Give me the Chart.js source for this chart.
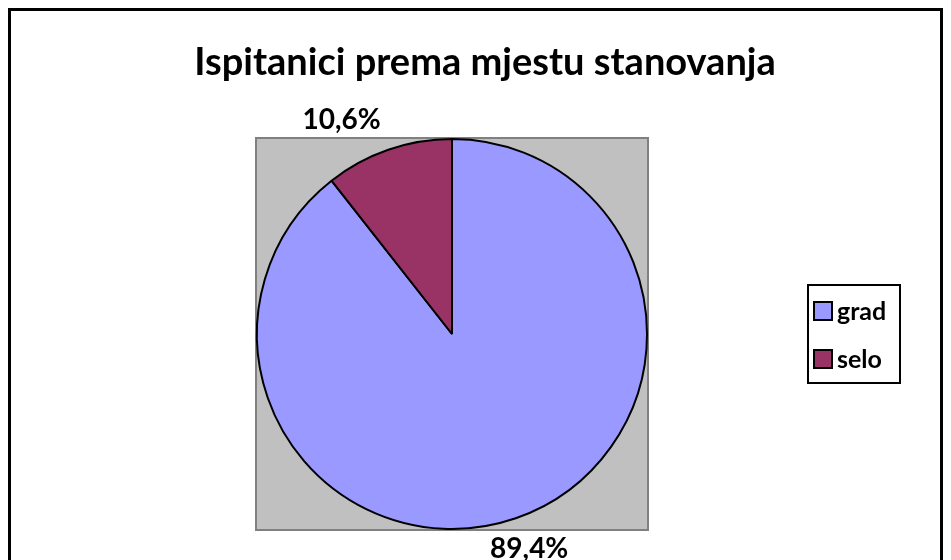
<!DOCTYPE html>
<html>
<head>
<meta charset="utf-8">
<script src="https://cdn.jsdelivr.net/npm/chart.js@4/dist/chart.umd.min.js"></script>
<style>
  html, body { margin: 0; padding: 0; background: #fff; overflow: hidden; }
  #wrap { width: 951px; height: 560px; }
</style>
</head>
<body>
<div id="wrap"><canvas id="myChart" width="951" height="560"></canvas></div>
<script>
var chartTitle = 'Ispitanici prema mjestu stanovanja';
var categories = ['grad', 'selo'];
var shares = [89.4, 10.6];
var sliceColors = ['#9999FF', '#993366'];

var FONT = 'Lato, "Open Sans", sans-serif';

function pct(v) {
    return v.toFixed(1).replace('.', ',') + '%';
}

// grey plot square, outer frame, title, legend
var frame = {
    id: 'frame',
    beforeDraw: function (chart) {
        var ctx = chart.ctx;
        var a = chart.chartArea;
        ctx.save();
        ctx.fillStyle = '#fff';
        ctx.fillRect(0, 0, chart.width, chart.height);
        ctx.fillStyle = '#C0C0C0';
        ctx.fillRect(a.left, a.top, a.right - a.left, a.bottom - a.top);
        ctx.strokeStyle = '#808080';
        ctx.lineWidth = 2;
        ctx.strokeRect(a.left, a.top, a.right - a.left, a.bottom - a.top);
        ctx.restore();
    },
    afterDraw: function (chart) {
        var ctx = chart.ctx;
        ctx.save();
        // outer border (bottom edge falls below the canvas)
        ctx.strokeStyle = '#000';
        ctx.lineWidth = 3;
        ctx.strokeRect(9.5, 9.5, 932, 700);

        ctx.fillStyle = '#000';
        ctx.font = 'bold 38px ' + FONT;
        ctx.textAlign = 'center';
        ctx.textBaseline = 'alphabetic';
        ctx.fillText(chartTitle, 485, 75);

        // legend
        ctx.lineWidth = 2;
        ctx.strokeRect(808, 285, 92, 98);
        ctx.font = 'bold 25px ' + FONT;
        ctx.textAlign = 'left';
        for (var i = 0; i < categories.length; i++) {
            var y = 302 + i * 48;
            ctx.fillStyle = sliceColors[i];
            ctx.fillRect(814, y, 18, 18);
            ctx.strokeStyle = '#000';
            ctx.strokeRect(814, y, 18, 18);
            ctx.fillStyle = '#000';
            ctx.fillText(categories[i], 837, y + 18);
        }

        // value labels outside each slice
        var meta = chart.getDatasetMeta(0);
        ctx.font = 'bold 28px ' + FONT;
        ctx.textAlign = 'center';
        ctx.textBaseline = 'middle';
        meta.data.forEach(function (arc, i) {
            var p = arc.getProps(['x', 'y', 'startAngle', 'endAngle', 'outerRadius'], true);
            var mid = (p.startAngle + p.endAngle) / 2;
            var r = p.outerRadius + 32;
            var dx = Math.cos(mid), dy = Math.sin(mid);
            var txt = pct(shares[i]);
            var w = ctx.measureText(txt).width;
            var cx = p.x + dx * r + (dx < 0 ? -w / 2 : 0) + 3;
            var cy = p.y + dy * r;
            ctx.fillText(txt, cx, cy);
        });
        ctx.restore();
    }
};

var ctx = document.getElementById('myChart').getContext('2d');
var myChart = new Chart(ctx, {
    type: 'pie',
    data: {
        labels: categories,
        datasets: [{
            data: shares,
            backgroundColor: sliceColors,
            borderColor: '#000',
            borderWidth: 2
        }]
    },
    options: {
        responsive: false,
        animation: false,
        rotation: 0,
        layout: {
            padding: { left: 256, right: 303, top: 138, bottom: 30 }
        },
        plugins: {
            legend: { display: false },
            title: { display: false },
            tooltip: { enabled: false }
        }
    },
    plugins: [frame]
});
</script>
</body>
</html>
